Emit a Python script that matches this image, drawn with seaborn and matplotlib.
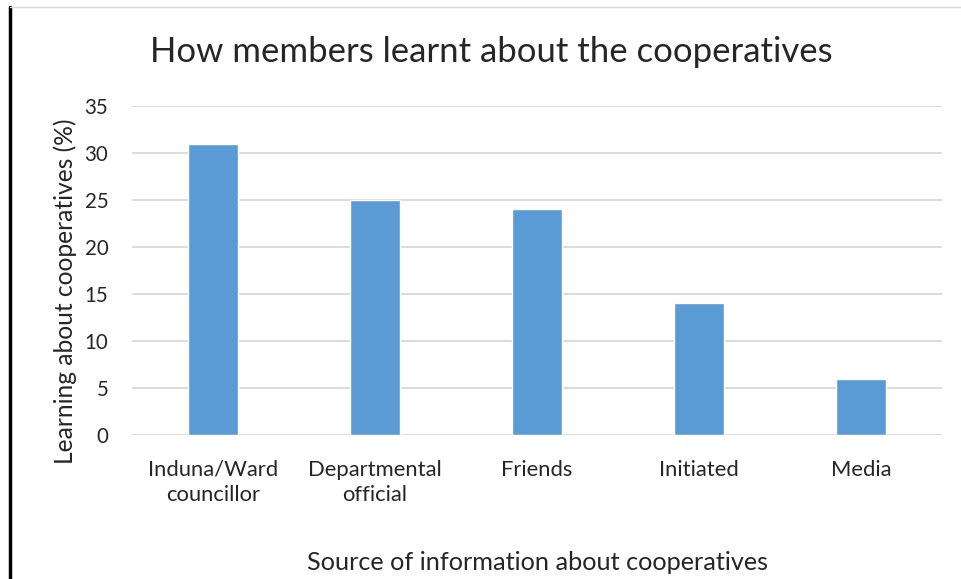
import matplotlib
matplotlib.use("Agg")
import matplotlib.pyplot as plt
from matplotlib.lines import Line2D
import seaborn as sns
import pandas as pd

sources = ["Induna/Ward\ncouncillor", "Departmental\nofficial", "Friends", "Initiated", "Media"]
percent = [31, 25, 24, 14, 6]
yticks = [0, 5, 10, 15, 20, 25, 30, 35]

sns.set_theme(style="white")
plt.rcParams["font.family"] = ["Lato", "DejaVu Sans"]

df = pd.DataFrame({"source": sources, "percent": percent})

fig = plt.figure(figsize=(9.62, 5.79), dpi=100)
ax = fig.add_axes([132 / 962, 1 - 435 / 579, 810 / 962, 329 / 579])

sns.barplot(data=df, x="source", y="percent", color="#5B9BD5", width=0.31,
            saturation=1, ax=ax, zorder=3)

ax.set_ylim(0, 35)
ax.set_xlim(-0.5, len(sources) - 0.5)
ax.set_yticks(yticks)
ax.yaxis.grid(True, color="#D9D9D9", linewidth=1.3, zorder=0)
for s in ax.spines.values():
    s.set_visible(False)
ax.tick_params(axis="y", length=0, labelsize=14.8, colors="#262626", pad=17)
ax.tick_params(axis="x", length=0, labelsize=15.8, colors="#262626", pad=18)
for lbl in ax.get_xticklabels():
    lbl.set_linespacing(1.3)
ax.set_xlabel("")
ax.set_ylabel("")

fig.text(491 / 962, 1 - 52 / 579, "How members learnt about the cooperatives",
         ha="center", va="center", fontsize=25, color="#262626")
fig.text(65 / 962, 1 - 291 / 579, "Learning about cooperatives (%)",
         ha="center", va="center", rotation=90, fontsize=17.7, color="#262626")
fig.text(538 / 962, 1 - 563 / 579, "Source of information about cooperatives",
         ha="center", va="center", fontsize=18.2, color="#262626")

# frame edges
fig.add_artist(Line2D([9.5 / 962, 9.5 / 962], [0, 1 - 7 / 579], color="black", linewidth=2.5))
fig.add_artist(Line2D([9.5 / 962, 1], [1 - 7 / 579, 1 - 7 / 579], color="#D9D9D9", linewidth=1))

fig.savefig("out.png", dpi=100)
